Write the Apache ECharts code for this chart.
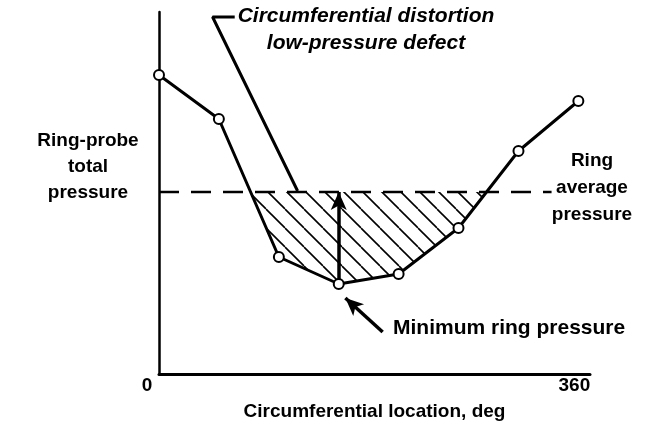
<!DOCTYPE html>
<html>
<head>
<meta charset="utf-8">
<script src="https://cdn.jsdelivr.net/npm/echarts@6/dist/echarts.min.js"></script>
<style>
  html, body { margin: 0; padding: 0; background: #fff; }
  #chart { width: 669px; height: 425px; }
</style>
</head>
<body>
<div id="chart"></div>
<script>
// circumferential location (deg) of each ring probe
var locations = [0, 51.4, 102.9, 154.3, 205.7, 257.1, 308.6, 360];
// ring-probe total pressure (arbitrary units)
var pressures = [299, 255, 117, 90, 100, 146, 223, 273];
var ringAverage = 182;
var averageLineEnd = 337;
var xTickLabels = [0, 360];
// callout leader for the defect label, and the arrow to the minimum
var defectLeader = [[119, 183], [46, 357], [65, 357]];
var minArrow = [[192, 42], [160, 76]];

var FONT = 'Liberation Sans, Arial, sans-serif';

var curve = locations.map(function (x, i) { return [x, pressures[i]]; });
var minIdx = pressures.indexOf(Math.min.apply(null, pressures));

// part of the curve that sits below the ring average (closes along the average line)
function belowAverage(points, avg) {
  var out = [];
  for (var i = 0; i < points.length; i++) {
    var p = points[i];
    if (i > 0) {
      var q = points[i - 1];
      if ((q[1] - avg) * (p[1] - avg) < 0) {
        var t = (avg - q[1]) / (p[1] - q[1]);
        out.push([q[0] + t * (p[0] - q[0]), avg]);
      }
    }
    if (p[1] <= avg) out.push(p);
  }
  return out;
}

// diagonal hatch tile
var tile = document.createElement('canvas');
var S = 19;
tile.width = S; tile.height = S;
var ctx = tile.getContext('2d');
ctx.strokeStyle = '#000';
ctx.lineWidth = 1.6;
[-S, 0, S].forEach(function (o) {
  ctx.beginPath();
  ctx.moveTo(o, 0);
  ctx.lineTo(o + S, S);
  ctx.stroke();
});

var myChart = echarts.init(document.getElementById('chart'));

var bold19 = { fontFamily: FONT, fontWeight: 'bold', fontSize: 19, color: '#000' };

var option = {
  animation: false,
  grid: { left: 159, right: 79, top: 12, bottom: 51, outerBoundsMode: 'none' },
  xAxis: {
    type: 'value',
    min: 0,
    max: 370,
    splitLine: { show: false },
    axisTick: { show: false },
    axisLine: { onZero: false, lineStyle: { color: '#000', width: 3 } },
    axisLabel: {
      customValues: xTickLabels,
      margin: 2,
      color: '#000',
      fontFamily: FONT,
      fontWeight: 'bold',
      fontSize: 19,
      formatter: function (v) { return v === 0 ? '{a|0}' : '{b|' + v + '}'; },
      rich: {
        a: Object.assign({ padding: [0, 24, 0, 0] }, bold19),
        b: Object.assign({ padding: [0, 8, 0, 0] }, bold19)
      }
    },
    name: 'Circumferential location, deg',
    nameLocation: 'middle',
    nameGap: 28,
    nameTextStyle: bold19
  },
  yAxis: {
    type: 'value',
    min: 0,
    max: 362,
    splitLine: { show: false },
    axisTick: { show: false },
    axisLabel: { show: false },
    axisLine: { show: true, lineStyle: { color: '#000', width: 2.5 } }
  },
  series: [
    {
      type: 'custom',
      z: 1,
      silent: true,
      data: [0],
      renderItem: function (params, api) {
        var pts = belowAverage(curve, ringAverage).map(function (p) { return api.coord(p); });
        return {
          type: 'polygon',
          shape: { points: pts },
          style: { fill: { image: tile, repeat: 'repeat' }, stroke: null }
        };
      }
    },
    {
      type: 'line',
      z: 2,
      data: [[0, ringAverage], [averageLineEnd, ringAverage]],
      symbol: 'none',
      lineStyle: { color: '#000', width: 2.5, type: [20, 12] }
    },
    {
      type: 'line',
      z: 3,
      data: defectLeader,
      symbol: 'none',
      lineStyle: { color: '#000', width: 3 }
    },
    {
      type: 'line',
      z: 5,
      data: curve,
      symbol: 'circle',
      symbolSize: 10,
      itemStyle: { color: '#fff', borderColor: '#000', borderWidth: 2 },
      lineStyle: { color: '#000', width: 3 },
      markLine: {
        silent: true,
        symbol: ['none', 'arrow'],
        symbolSize: [12, 18],
        label: { show: false },
        lineStyle: { color: '#000', width: 3.5, type: 'solid' },
        data: [
          [{ coord: curve[minIdx] }, { coord: [locations[minIdx], ringAverage] }],
          [{ coord: minArrow[0] }, { coord: minArrow[1] }]
        ]
      }
    }
  ],
  graphic: [
    {
      type: 'text', x: 88, y: 128,
      style: {
        text: 'Ring-probe\ntotal\npressure', align: 'center', verticalAlign: 'top',
        font: 'bold 19px ' + FONT, lineHeight: 26, fill: '#000'
      }
    },
    {
      type: 'text', x: 592, y: 147,
      style: {
        text: 'Ring\naverage\npressure', align: 'center', verticalAlign: 'top',
        font: 'bold 19px ' + FONT, lineHeight: 27, fill: '#000'
      }
    },
    {
      type: 'text', x: 366, y: 3,
      style: {
        text: 'Circumferential distortion\nlow-pressure defect', align: 'center', verticalAlign: 'top',
        font: 'italic bold 21px ' + FONT, lineHeight: 27, fill: '#000'
      }
    },
    {
      type: 'text', x: 393, y: 328,
      style: { text: 'Minimum ring pressure', verticalAlign: 'middle', font: 'bold 21px ' + FONT, fill: '#000' }
    }
  ]
};

myChart.setOption(option);
</script>
</body>
</html>
